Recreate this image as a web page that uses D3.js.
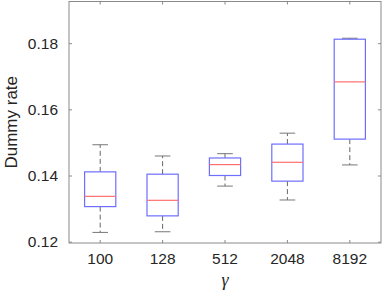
<!DOCTYPE html>
<html>
<head>
<meta charset="utf-8">
<script src="https://cdn.jsdelivr.net/npm/d3@7"></script>
<style>
  body { margin: 0; background: #fff; }
  text { font-family: "Liberation Sans", Arial, sans-serif; fill: #262626; }
</style>
</head>
<body>
<div id="chart-container"></div>
<script>
// Data
const categories = ["100", "128", "512", "2048", "8192"];
const whiskerLow  = [0.1228, 0.1230, 0.1368, 0.1326, 0.1432];
const q1          = [0.1306, 0.1278, 0.1400, 0.1383, 0.1510];
const median      = [0.1337, 0.1325, 0.1433, 0.1440, 0.1683];
const q3          = [0.1411, 0.1404, 0.1453, 0.1495, 0.1812];
const whiskerHigh = [0.1493, 0.1459, 0.1466, 0.1528, 0.1815];
const yTicks = [0.12, 0.14, 0.16, 0.18];

const W = 382, H = 292;
const margin = { top: 1.5, right: 1, bottom: 49, left: 69 };
const width = W - margin.left - margin.right;
const height = H - margin.top - margin.bottom;

const x = d3.scaleBand()
  .domain(categories)
  .range([0, width])
  .paddingInner(0.5)
  .paddingOuter(0.25);

const y = d3.scaleLinear()
  .domain([0.1196, 0.1926])
  .range([height, 0]);

const svg = d3.select("#chart-container")
  .append("svg")
  .attr("width", W)
  .attr("height", H)
  .append("g")
  .attr("transform", `translate(${margin.left},${margin.top})`);

const axisColor = "#8a8a8a";

// frame
svg.append("rect")
  .attr("x", 0).attr("y", 0)
  .attr("width", width).attr("height", height)
  .attr("fill", "none")
  .attr("stroke", axisColor)
  .attr("stroke-width", 1);

// bottom axis (ticks inward)
svg.append("g")
  .attr("transform", `translate(0,${height})`)
  .style("font-size", "15.5px")
  .call(d3.axisBottom(x).tickSize(-3).tickPadding(10))
  .call(g => g.select(".domain").remove())
  .call(g => g.selectAll(".tick line").attr("stroke", axisColor))
  .call(g => g.selectAll(".tick text").attr("fill", "#262626"));

// top ticks
svg.append("g")
  .call(d3.axisTop(x).tickSize(-3).tickFormat(""))
  .call(g => g.select(".domain").remove())
  .call(g => g.selectAll(".tick line").attr("stroke", axisColor));

// left axis
svg.append("g")
  .style("font-size", "15.5px")
  .call(d3.axisLeft(y).tickValues(yTicks).tickFormat(d3.format(".2f")).tickSize(-3).tickPadding(11))
  .call(g => g.select(".domain").remove())
  .call(g => g.selectAll(".tick line").attr("stroke", axisColor))
  .call(g => g.selectAll(".tick text").attr("fill", "#262626"));

// right ticks
svg.append("g")
  .attr("transform", `translate(${width},0)`)
  .call(d3.axisRight(y).tickValues(yTicks).tickSize(-3).tickFormat(""))
  .call(g => g.select(".domain").remove())
  .call(g => g.selectAll(".tick line").attr("stroke", axisColor));

// boxes
const boxes = categories.map((c, i) => ({
  c, lo: whiskerLow[i], q1: q1[i], med: median[i], q3: q3[i], hi: whiskerHigh[i]
}));

const bw = x.bandwidth();
const g = svg.selectAll(".box")
  .data(boxes)
  .join("g")
  .attr("class", "box")
  .attr("transform", d => `translate(${x(d.c)},0)`);

// whiskers
g.append("line")
  .attr("x1", bw / 2).attr("x2", bw / 2)
  .attr("y1", d => y(d.q3)).attr("y2", d => y(d.hi))
  .attr("stroke", "#666").attr("stroke-dasharray", "5,3");
g.append("line")
  .attr("x1", bw / 2).attr("x2", bw / 2)
  .attr("y1", d => y(d.q1)).attr("y2", d => y(d.lo))
  .attr("stroke", "#666").attr("stroke-dasharray", "5,3");

// caps
g.append("line")
  .attr("x1", bw / 4).attr("x2", bw * 3 / 4)
  .attr("y1", d => y(d.hi)).attr("y2", d => y(d.hi))
  .attr("stroke", "#777");
g.append("line")
  .attr("x1", bw / 4).attr("x2", bw * 3 / 4)
  .attr("y1", d => y(d.lo)).attr("y2", d => y(d.lo))
  .attr("stroke", "#777");

// box
g.append("rect")
  .attr("x", 0)
  .attr("width", bw)
  .attr("y", d => y(d.q3))
  .attr("height", d => y(d.q1) - y(d.q3))
  .attr("fill", "white")
  .attr("stroke", "#6e6eff")
  .attr("stroke-width", 1.2);

// median
g.append("line")
  .attr("x1", 0).attr("x2", bw)
  .attr("y1", d => y(d.med)).attr("y2", d => y(d.med))
  .attr("stroke", "#ff6f6f")
  .attr("stroke-width", 1.2);

// Y label
svg.append("text")
  .attr("transform", `translate(${16.5 - margin.left},${height / 2}) rotate(-90)`)
  .attr("text-anchor", "middle")
  .style("font-size", "17px")
  .text("Dummy rate");

// X label
svg.append("text")
  .attr("x", width / 2)
  .attr("y", 286 - margin.top)
  .attr("text-anchor", "middle")
  .style("font-size", "18px")
  .style("font-style", "italic")
  .style("font-family", "'Liberation Serif', serif")
  .text("γ");
</script>
</body>
</html>
